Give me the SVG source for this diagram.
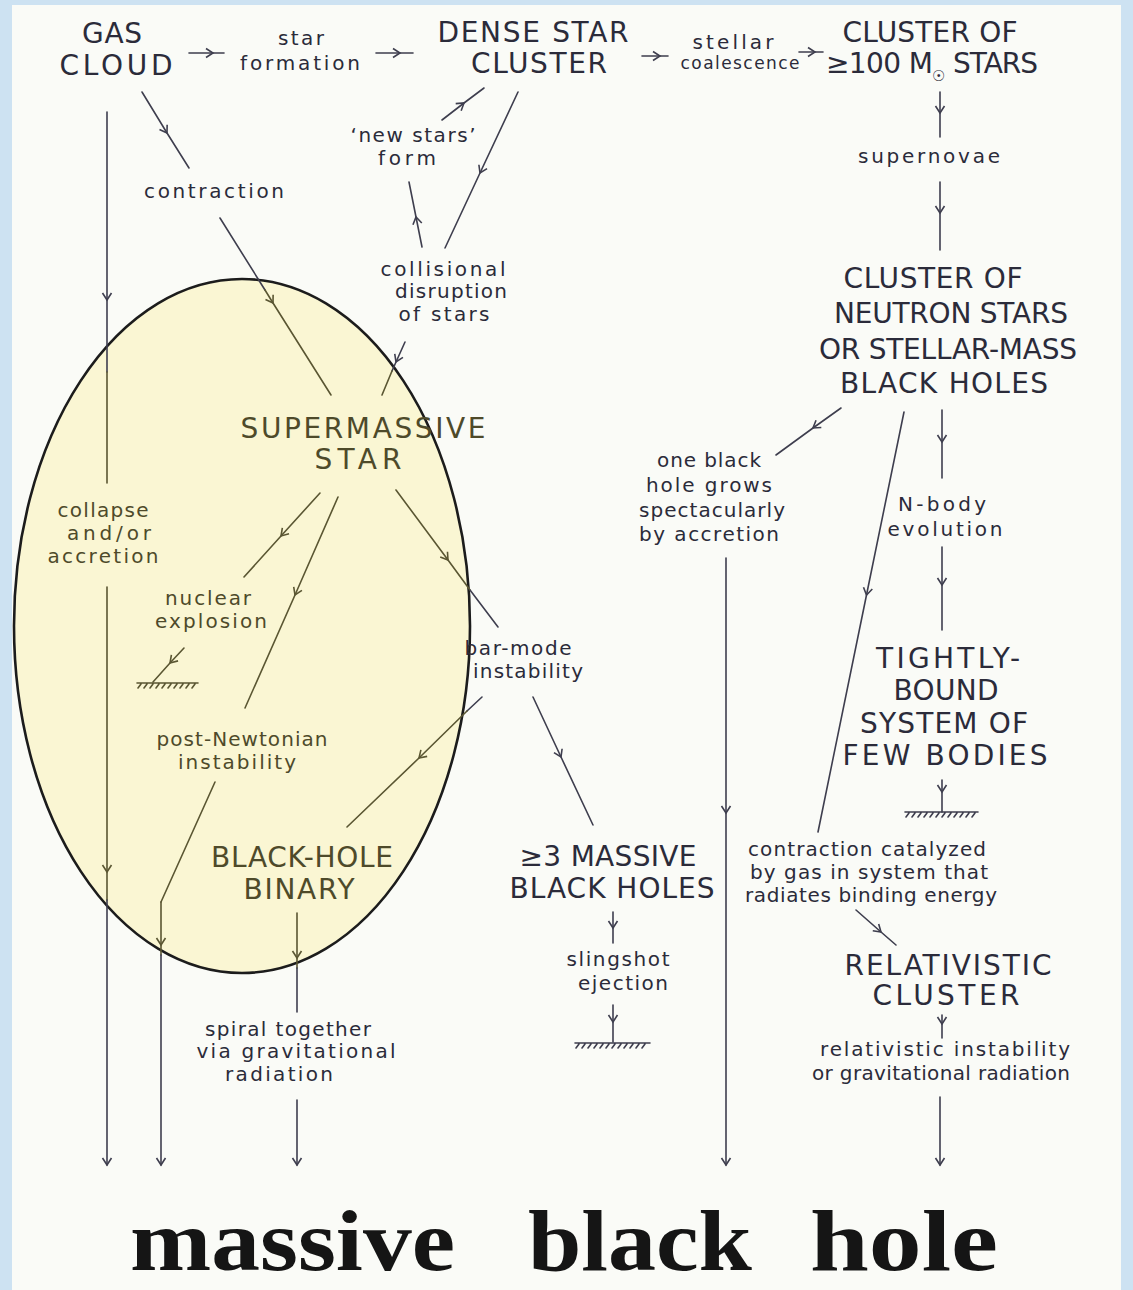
<svg xmlns="http://www.w3.org/2000/svg" width="1133" height="1290" viewBox="0 0 1133 1290">
<style>
.cap{font-family:"DejaVu Sans","Liberation Sans",sans-serif;font-size:28px;text-anchor:middle}
.lab{font-family:"DejaVu Sans","Liberation Sans",sans-serif;font-size:20px;text-anchor:middle}
.sm{font-size:17px}
.d{fill:#2b2b3a}
.o{fill:#4e4a2a}
.ln{fill:none;stroke-width:1.6;stroke-linecap:round}
.dk{stroke:#3e3e4e}
.ol{stroke:#5a5632}
.md{marker-mid:url(#ad)}
.mo{marker-mid:url(#ao)}
.ed{marker-end:url(#ad)}
.title{font-family:"Liberation Serif","DejaVu Serif",serif;font-weight:bold;font-size:86px;fill:#151515}
</style>
<defs>
<marker id="ad" markerUnits="userSpaceOnUse" markerWidth="20" markerHeight="20" refX="0" refY="0" orient="auto" overflow="visible">
<path d="M-7,-4.5 L0,0 L-7,4.5" fill="none" stroke="#3e3e4e" stroke-width="1.6"/>
</marker>
<marker id="ao" markerUnits="userSpaceOnUse" markerWidth="20" markerHeight="20" refX="0" refY="0" orient="auto" overflow="visible">
<path d="M-7,-4.5 L0,0 L-7,4.5" fill="none" stroke="#5a5632" stroke-width="1.6"/>
</marker>
</defs>
<rect x="0" y="0" width="1133" height="1290" fill="#cde2f2"/>
<rect x="12" y="5" width="1109" height="1285" fill="#fafbf7"/>
<ellipse id="highlight" cx="242" cy="626" rx="228" ry="347" fill="#faf6d3" stroke="#1c1c1c" stroke-width="2.6"/>

<g id="connectors">
<polyline class="ln dk md" points="189,53 213,53 224,53"/>
<polyline class="ln dk md" points="376,53 400,53 413,53"/>
<polyline class="ln dk md" points="642,56 660,56 668,56"/>
<polyline class="ln dk md" points="799,52 815,52 823,52"/>
<polyline class="ln dk md" points="107,112 107,300 107,372"/>
<polyline class="ln ol" points="107,372 107,483"/>
<polyline class="ln ol mo" points="107,587 107,872 107,900"/>
<polyline class="ln dk ed" points="107,900 107,1165"/>
<polyline class="ln dk md" points="142,92 167,133 189,168"/>
<polyline class="ln dk" points="220,218 265,290"/>
<polyline class="ln ol mo" points="265,290 273,303 331,395"/>
<polyline class="ln dk md" points="442,120 464,103 484,88"/>
<polyline class="ln dk md" points="518,92 480,173 445,248"/>
<polyline class="ln dk md" points="422,247 416,217 409,182"/>
<polyline class="ln dk md" points="405,342 396,362 392,371"/>
<polyline class="ln ol" points="392,371 382,395"/>
<polyline class="ln ol mo" points="320,493 281,536 244,577"/>
<polyline class="ln ol mo" points="338,497 295,595 245,708"/>
<polyline class="ln ol mo" points="396,490 448,560 470,590"/>
<polyline class="ln dk" points="470,590 498,627"/>
<polyline class="ln ol mo" points="184,648 170,663 153,682"/>
<path class="ln ol" d="M137,683 H198 M141,684 l-3,4 M147,684 l-3,4 M153,684 l-3,4 M159,684 l-3,4 M165,684 l-3,4 M171,684 l-3,4 M177,684 l-3,4 M183,684 l-3,4 M189,684 l-3,4 M195,684 l-3,4"/>
<polyline class="ln dk" points="482,697 467,711"/>
<polyline class="ln ol mo" points="467,711 419,758 347,827"/>
<polyline class="ln dk md" points="533,697 561,757 593,825"/>
<polyline class="ln ol" points="215,782 161,902"/>
<polyline class="ln ol mo" points="161,902 161,945 161,955"/>
<polyline class="ln dk ed" points="161,955 161,1165"/>
<polyline class="ln ol mo" points="297,913 297,958 297,968"/>
<polyline class="ln dk" points="297,968 297,1012"/>
<polyline class="ln dk ed" points="297,1100 297,1165"/>
<polyline class="ln dk md" points="940,92 940,113 940,137"/>
<polyline class="ln dk md" points="940,182 940,213 940,250"/>
<polyline class="ln dk md" points="841,408 813,428 776,455"/>
<polyline class="ln dk md ed" points="726,558 726,813 726,1165"/>
<polyline class="ln dk md" points="904,412 866.5,595 818,832"/>
<polyline class="ln dk md" points="942,410 942,442 942,478"/>
<polyline class="ln dk md" points="942,547 942,585 942,630"/>
<polyline class="ln dk md" points="942,780 942,792 942,812"/>
<path class="ln dk" d="M905,812 H978 M909,813 l-3,4 M915,813 l-3,4 M921,813 l-3,4 M927,813 l-3,4 M933,813 l-3,4 M939,813 l-3,4 M945,813 l-3,4 M951,813 l-3,4 M957,813 l-3,4 M963,813 l-3,4 M969,813 l-3,4 M975,813 l-3,4"/>
<polyline class="ln dk md" points="856,910 881,932 896,945"/>
<polyline class="ln dk md" points="942,1015 942,1024 942,1038"/>
<polyline class="ln dk ed" points="940,1097 940,1165"/>
<polyline class="ln dk md" points="613,912 613,928 613,943"/>
<polyline class="ln dk md" points="613,1005 613,1022 613,1042"/>
<path class="ln dk" d="M575,1043 H650 M579,1044 l-3,4 M585,1044 l-3,4 M591,1044 l-3,4 M597,1044 l-3,4 M603,1044 l-3,4 M609,1044 l-3,4 M615,1044 l-3,4 M621,1044 l-3,4 M627,1044 l-3,4 M633,1044 l-3,4 M639,1044 l-3,4 M645,1044 l-3,4"/>
</g>

<g id="gas-cloud"><text class="cap d" x="112" y="43" textLength="60">GAS</text><text class="cap d" x="116" y="75" textLength="113">CLOUD</text></g>
<g id="star-formation"><text class="lab d" x="301" y="45" textLength="46">star</text><text class="lab d" x="300" y="70" textLength="120">formation</text></g>
<g id="dense-star-cluster"><text class="cap d" x="533" y="42" textLength="191">DENSE STAR</text><text class="cap d" x="539" y="73" textLength="136">CLUSTER</text></g>
<g id="stellar-coalescence"><text class="lab d" x="733" y="49" textLength="81">stellar</text><text class="lab sm d" x="740" y="69" textLength="119">coalescence</text></g>
<g id="cluster-100"><text class="cap d" x="930" y="42" textLength="175">CLUSTER OF</text>
<text class="cap d" style="text-anchor:start"><tspan x="826" y="73" textLength="107">≥100 M</tspan><tspan x="932" y="81" font-size="15">☉</tspan><tspan x="953" y="73" textLength="85">STARS</tspan></text></g>
<g id="contraction"><text class="lab d" x="214" y="198" textLength="140">contraction</text></g>
<g id="new-stars"><text class="lab d" x="413" y="142" textLength="125">‘new stars’</text><text class="lab d" x="407" y="165" textLength="58">form</text></g>
<g id="collisional"><text class="lab d" x="443" y="276" textLength="125">collisional</text><text class="lab d" x="451" y="298" textLength="112">disruption</text><text class="lab d" x="444" y="321" textLength="91">of stars</text></g>
<g id="supernovae"><text class="lab d" x="929" y="163" textLength="142">supernovae</text></g>
<g id="cluster-neutron"><text class="cap d" x="933" y="288" textLength="179">CLUSTER OF</text><text class="cap d" x="951" y="323" textLength="234">NEUTRON STARS</text><text class="cap d" x="948" y="359" textLength="258">OR STELLAR-MASS</text><text class="cap d" x="944" y="393" textLength="208">BLACK HOLES</text></g>
<g id="supermassive-star"><text class="cap o" x="363" y="438" textLength="245">SUPERMASSIVE</text><text class="cap o" x="358" y="469" textLength="87">STAR</text></g>
<g id="collapse"><text class="lab o" x="103" y="517" textLength="91">collapse</text><text class="lab o" x="109" y="540" textLength="84">and/or</text><text class="lab o" x="103" y="563" textLength="111">accretion</text></g>
<g id="nuclear-explosion"><text class="lab o" x="208" y="605" textLength="86">nuclear</text><text class="lab o" x="211" y="628" textLength="112">explosion</text></g>
<g id="bar-mode"><text class="lab d" x="518" y="655" textLength="107">bar-mode</text><text class="lab d" x="528" y="678" textLength="110">instability</text></g>
<g id="post-newtonian"><text class="lab o" x="242" y="746" textLength="171">post-Newtonian</text><text class="lab o" x="237" y="769" textLength="118">instability</text></g>
<g id="black-hole-binary"><text class="cap o" x="302" y="867" textLength="182">BLACK-HOLE</text><text class="cap o" x="299" y="899" textLength="111">BINARY</text></g>
<g id="spiral"><text class="lab d" x="288" y="1036" textLength="166">spiral together</text><text class="lab d" x="296" y="1058" textLength="199">via gravitational</text><text class="lab d" x="279" y="1081" textLength="108">radiation</text></g>
<g id="three-massive"><text class="cap d" x="608" y="866" textLength="177">≥3 MASSIVE</text><text class="cap d" x="612" y="898" textLength="205">BLACK HOLES</text></g>
<g id="slingshot"><text class="lab d" x="618" y="966" textLength="103">slingshot</text><text class="lab d" x="623" y="990" textLength="90">ejection</text></g>
<g id="one-black-hole"><text class="lab d" x="709" y="467" textLength="104">one black</text><text class="lab d" x="709" y="492" textLength="126">hole grows</text><text class="lab d" x="712" y="517" textLength="146">spectacularly</text><text class="lab d" x="709" y="541" textLength="140">by accretion</text></g>
<g id="n-body"><text class="lab d" x="942" y="511" textLength="88">N-body</text><text class="lab d" x="945" y="536" textLength="115">evolution</text></g>
<g id="tightly-bound"><text class="cap d" x="948" y="668" textLength="144">TIGHTLY-</text><text class="cap d" x="946" y="700" textLength="105">BOUND</text><text class="cap d" x="944" y="733" textLength="168">SYSTEM OF</text><text class="cap d" x="945" y="765" textLength="205">FEW BODIES</text></g>
<g id="contraction-catalyzed"><text class="lab d" x="867" y="856" textLength="238">contraction catalyzed</text><text class="lab d" x="869" y="879" textLength="238">by gas in system that</text><text class="lab d" x="871" y="902" textLength="252">radiates binding energy</text></g>
<g id="relativistic-cluster"><text class="cap d" x="948" y="975" textLength="207">RELATIVISTIC</text><text class="cap d" x="946" y="1005" textLength="147">CLUSTER</text></g>
<g id="relativistic-instability"><text class="lab d" x="945" y="1056" textLength="250">relativistic instability</text><text class="lab d" x="941" y="1080" textLength="258">or gravitational radiation</text></g>
<g id="massive-black-hole"><text class="title" x="130" y="1270" textLength="325" lengthAdjust="spacingAndGlyphs">massive</text><text class="title" x="528" y="1270" textLength="224" lengthAdjust="spacingAndGlyphs">black</text><text class="title" x="810" y="1270" textLength="188" lengthAdjust="spacingAndGlyphs">hole</text></g>
</svg>
